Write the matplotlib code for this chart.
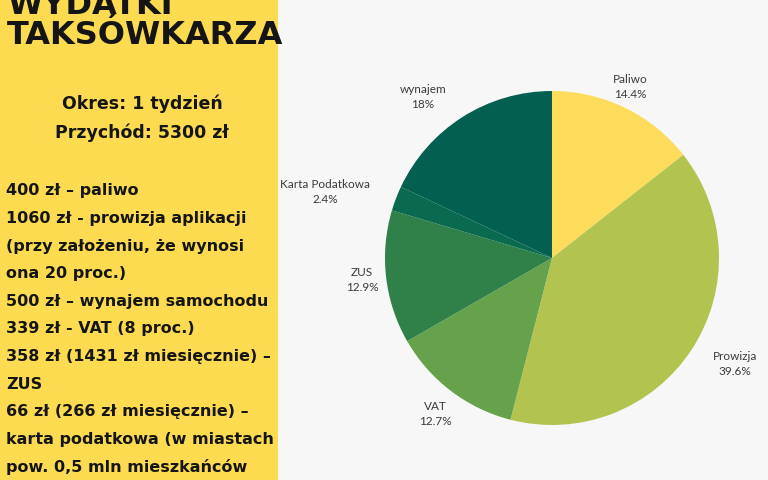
import matplotlib.pyplot as plt

# data
labels = ['Paliwo', 'Prowizja', 'VAT', 'ZUS', 'Karta Podatkowa', 'wynajem']
shares = [14.4, 39.6, 12.7, 12.9, 2.4, 18.0]
pct_text = ['14.4%', '39.6%', '12.7%', '12.9%', '2.4%', '18%']
colors = ['#fcdc5a', '#b3c350', '#65a24b', '#2f8149', '#096a4f', '#035f4f']
# label positions in pixels (from the picture)
label_xy = [(630, 87), (735, 364), (435, 414), (362, 280), (325, 192), (423, 97)]

title_lines = ['WYDATKI', 'TAKSÓWKARZA']
header_lines = ['Okres: 1 tydzień', 'Przychód: 5300 zł']
list_lines = [
    '400 zł – paliwo',
    '1060 zł - prowizja aplikacji',
    '(przy założeniu, że wynosi',
    'ona 20 proc.)',
    '500 zł – wynajem samochodu',
    '339 zł - VAT (8 proc.)',
    '358 zł (1431 zł miesięcznie) –',
    'ZUS',
    '66 zł (266 zł miesięcznie) –',
    'karta podatkowa (w miastach',
    'pow. 0,5 mln mieszkańców',
]

W, H = 768, 480
fig = plt.figure(figsize=(W / 100, H / 100), dpi=100)
fig.patch.set_facecolor('#f7f7f7')

# yellow side panel
panel = fig.add_axes([0, 0, 278 / W, 1])
panel.set_facecolor('#fcdb50')
panel.set_xticks([])
panel.set_yticks([])
for s in panel.spines.values():
    s.set_visible(False)

def px(x, y):
    return x / W, 1 - y / H

bold = dict(family=['DejaVu Sans'], weight='bold', color='#151515')
fig.text(*px(7, 5), title_lines[0], fontsize=23, va='center', ha='left', **bold)
fig.text(*px(7, 36), title_lines[1], fontsize=23, va='center', ha='left', **bold)
for i, t in enumerate(header_lines):
    fig.text(*px(142, 104 + 29 * i), t, fontsize=12.5, va='center', ha='center', **bold)
for i, t in enumerate(list_lines):
    fig.text(*px(6, 191 + 27.6 * i), t, fontsize=11.5, va='center', ha='left', **bold)

# pie
cx, cy, r = 552, 258, 167
ax = fig.add_axes([(cx - r) / W, (H - cy - r) / H, 2 * r / W, 2 * r / H])
ax.pie(shares, colors=colors, startangle=90, counterclock=False,
       wedgeprops=dict(linewidth=0))
ax.set_aspect('auto')
ax.set_xlim(-1, 1)
ax.set_ylim(-1, 1)

for (x, y), name, p in zip(label_xy, labels, pct_text):
    fig.text(*px(x, y), name + '\n' + p, fontsize=8.5, ha='center', va='center',
             color='#3a3a3a', family=['Lato', 'DejaVu Sans'], linespacing=1.5)

fig.savefig('out.png', dpi=100, facecolor=fig.get_facecolor())
